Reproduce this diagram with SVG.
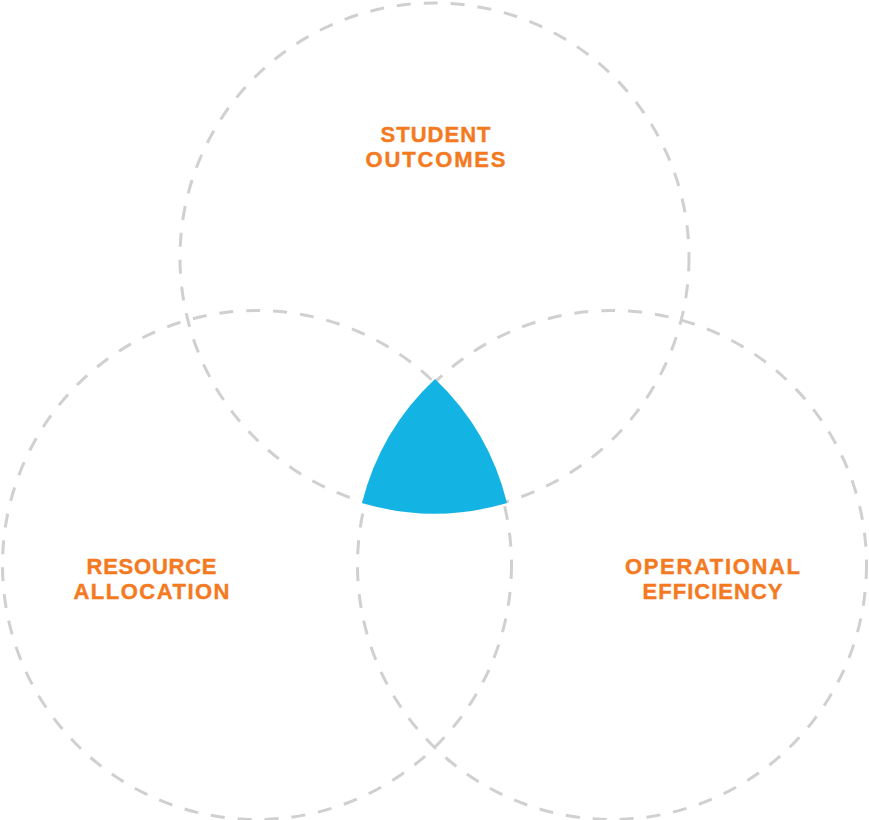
<svg xmlns="http://www.w3.org/2000/svg" width="869" height="820" viewBox="0 0 869 820">
  <style>
    .ring { fill: none; stroke: #d0d0d0; stroke-width: 3; stroke-dasharray: 14 13; }
    .label { font-family: "Liberation Sans", Arial, sans-serif; font-weight: bold; font-size: 22px; fill: #f47a22; stroke: #f47a22; stroke-width: 0.4; text-anchor: middle; }
    .core { fill: #13b3e4; }
  </style>
  <rect width="869" height="820" fill="#ffffff"/>
  <g id="student-outcomes">
    <circle class="ring" cx="434.5" cy="257.5" r="254.5"/>
  </g>
  <g id="resource-allocation">
    <circle class="ring" cx="257" cy="565" r="254.5"/>
  </g>
  <g id="operational-efficiency">
    <circle class="ring" cx="612" cy="565" r="254.5"/>
  </g>
  <g id="intersection">
    <path class="core" d="M 435 379 A 255 255 0 0 1 507 503 A 255 255 0 0 1 362 503 A 255 255 0 0 1 435 379 Z"/>
  </g>
  <g id="labels">
    <text class="label" x="435.5" y="141.5" textLength="110" lengthAdjust="spacing">STUDENT</text>
    <text class="label" x="435.5" y="166.5" textLength="140" lengthAdjust="spacing">OUTCOMES</text>
    <text class="label" x="151.5" y="574" textLength="130" lengthAdjust="spacing">RESOURCE</text>
    <text class="label" x="151.5" y="599" textLength="156" lengthAdjust="spacing">ALLOCATION</text>
    <text class="label" x="712.5" y="574" textLength="175" lengthAdjust="spacing">OPERATIONAL</text>
    <text class="label" x="712.5" y="599" textLength="140" lengthAdjust="spacing">EFFICIENCY</text>
  </g>
  <g id="connectors"></g>
</svg>
